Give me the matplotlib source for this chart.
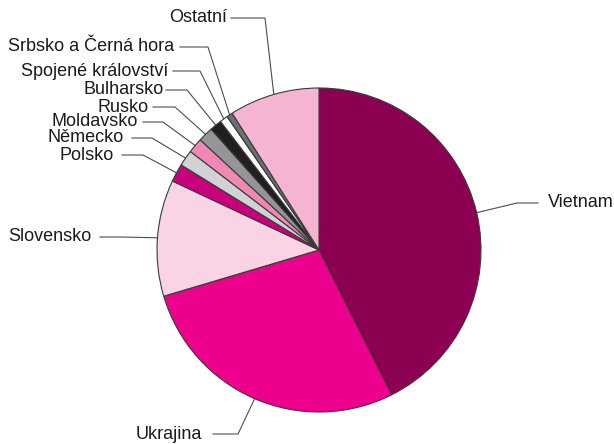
import matplotlib
matplotlib.use("Agg")
import matplotlib.pyplot as plt
import numpy as np

# podíly (%), po směru hodinových ručiček od 12 hodin
countries = ["Vietnam", "Ukrajina", "Slovensko", "Polsko", "Německo", "Moldavsko",
             "Rusko", "Bulharsko", "Spojené království", "Srbsko a Černá hora", "Ostatní"]
shares = [42.6, 27.8, 11.6, 1.8, 1.6, 1.5, 1.5, 1.2, 0.8, 0.6, 9.0]
colors = ["#8c0052", "#ec008c", "#fad4e4", "#c8007c", "#d1d2d4", "#f088b6",
          "#939598", "#231f20", "#ffffff", "#6d6e71", "#f5b4d2"]

# layout v pixelech (y shora): text (x, y, zarovnání), začátek a konec vodorovné čáry
label_layout = {
    "Vietnam": (548, 203, "left", 538, 517),
    "Ukrajina": (202, 434, "right", 213, 238),
    "Slovensko": (91, 237, "right", 100, 120),
    "Polsko": (114, 155, "right", 122, 143),
    "Německo": (124, 138, "right", 132, 152),
    "Moldavsko": (138, 122, "right", 143, 163),
    "Rusko": (149, 107, "right", 153, 175),
    "Bulharsko": (164, 90, "right", 166, 187),
    "Spojené království": (168, 71, "right", 173, 200),
    "Srbsko a Černá hora": (174, 47, "right", 180, 208),
    "Ostatní": (227, 18, "right", 231, 265),
}

W, H = 614, 444
cx, cy, r = 319, H - 250, 162

plt.rcParams["font.family"] = ["Liberation Sans", "DejaVu Sans"]

fig = plt.figure(figsize=(W / 100, H / 100), dpi=100)
ax = fig.add_axes([0, 0, 1, 1])

wedges, _ = ax.pie(shares, colors=colors, startangle=90, counterclock=False,
                   center=(cx, cy), radius=r,
                   wedgeprops=dict(edgecolor="#3a3a3a", linewidth=0.8))

for w, name in zip(wedges, countries):
    mid = np.deg2rad((w.theta1 + w.theta2) / 2)
    rx, ry = cx + r * np.cos(mid), cy + r * np.sin(mid)
    tx, ty, ha, x0, x1 = label_layout[name]
    ty = H - ty
    ax.plot([x0, x1, rx], [ty, ty, ry], color="#4d4d4d", lw=0.8,
            solid_joinstyle="miter", zorder=0)
    ax.text(tx, ty, name, ha=ha, va="center", fontsize=13, color="#1a1a1a")

ax.set_xlim(0, W)
ax.set_ylim(0, H)
ax.set_aspect("equal")
ax.axis("off")

fig.savefig("out.png", dpi=100)
